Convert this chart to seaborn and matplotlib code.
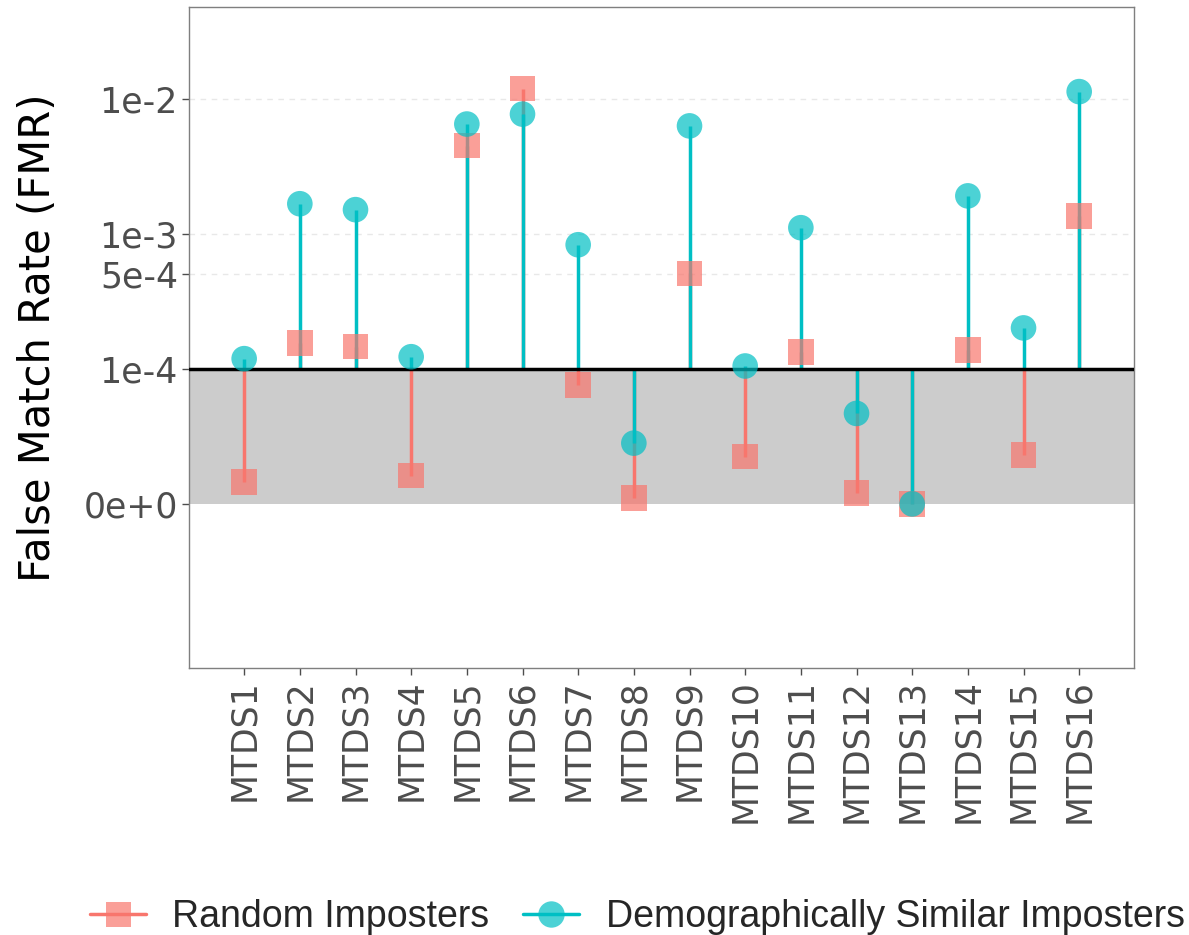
import numpy as np
import pandas as pd
import matplotlib
matplotlib.use("Agg")
import matplotlib.pyplot as plt
from matplotlib.lines import Line2D
import seaborn as sns

sns.set_theme(style="white")
plt.rcParams["font.family"] = ["DejaVu Sans"]

# Data
datasets = ["MTDS%d" % i for i in range(1, 17)]
random_fmr = [1.6e-5, 1.56e-4, 1.46e-4, 2.1e-5, 4.5e-3, 1.19e-2, 8.8e-5, 4.4e-6,
              5.1e-4, 3.5e-5, 1.34e-4, 8e-6, 0.0, 1.38e-4, 3.6e-5, 1.36e-3]
demo_fmr = [1.19e-4, 1.67e-3, 1.51e-3, 1.23e-4, 6.5e-3, 7.7e-3, 8.3e-4, 4.5e-5,
            6.3e-3, 1.05e-4, 1.11e-3, 6.7e-5, 0.0, 1.91e-3, 2.01e-4, 1.13e-2]
series = ["Random Imposters", "Demographically Similar Imposters"]
threshold = 1e-4

df = pd.DataFrame({
    "dataset": datasets * 2,
    "fmr": random_fmr + demo_fmr,
    "type": [series[0]] * 16 + [series[1]] * 16,
})
df["pos"] = df["dataset"].map({d: i for i, d in enumerate(datasets)})

red, cyan = "#F8766D", "#00BFC4"
palette = {series[0]: red, series[1]: cyan}


# linear below the threshold, log above
def fwd(x):
    x = np.asarray(x, dtype=float)
    return np.where(x <= threshold, x / threshold,
                    1 + np.log10(np.maximum(x, threshold) / threshold))


def inv(u):
    u = np.asarray(u, dtype=float)
    return np.where(u <= 1, u * threshold,
                    threshold * 10 ** (np.maximum(u, 1) - 1))


fig = plt.figure(figsize=(11.89, 9.35), dpi=100)
ax = fig.add_axes([0.159, 0.2856, 0.795, 0.707])
ax.set_yscale("function", functions=(fwd, inv))

ax.axhspan(0, threshold, color="#CCCCCC", zorder=0, lw=0)
for t in [5e-4, 1e-3, 1e-2]:
    ax.axhline(t, color="#E8E8E8", lw=1, ls=(0, (4, 4)), zorder=0)

for name in series:
    sub = df[df["type"] == name]
    ax.vlines(sub["pos"], threshold, sub["fmr"], color=palette[name], lw=2.5, zorder=2)

ax.axhline(threshold, color="black", lw=2.5, zorder=3)

sns.scatterplot(data=df, x="pos", y="fmr", hue="type", style="type",
                markers={series[0]: "s", series[1]: "o"}, palette=palette,
                s=340, alpha=0.7, linewidth=0, ax=ax, legend=False, zorder=4)

tick_font = {"family": "DejaVu Sans", "color": "#4D4D4D"}
ax.set_xlim(-0.99, 15.99)
ax.set_ylim(-1.215e-4, 4.79e-2)
ax.set_xticks(range(16))
ax.set_xticklabels(datasets, rotation=90, fontsize=25, **tick_font)
ax.set_yticks([0, 1e-4, 5e-4, 1e-3, 1e-2])
ax.set_yticklabels(["0e+0", "1e-4", "5e-4", "1e-3", "1e-2"], fontsize=25, **tick_font)
ax.yaxis.set_minor_locator(matplotlib.ticker.NullLocator())
ax.tick_params(axis="both", which="major", length=5, width=1, color="#4D4D4D",
               direction="out", bottom=True, left=True, pad=3)
ax.set_xlabel("")
ax.set_ylabel("False Match Rate (FMR)", fontsize=30, color="black", labelpad=18,
              family="DejaVu Sans")
for sp in ax.spines.values():
    sp.set_color("#7F7F7F")
    sp.set_linewidth(1)

handles = [
    Line2D([], [], color=red, lw=2.5, marker="s", markersize=18,
           markerfacecolor=(0.973, 0.463, 0.427, 0.7), markeredgewidth=0),
    Line2D([], [], color=cyan, lw=2.5, marker="o", markersize=19,
           markerfacecolor=(0.0, 0.749, 0.769, 0.7), markeredgewidth=0),
]
fig.legend(handles, series, loc="lower center", bbox_to_anchor=(0.536, -0.036), ncol=2,
           frameon=False, prop={"family": "Liberation Sans", "size": 27},
           handlelength=1.5, handletextpad=0.7, columnspacing=0.9)

fig.savefig("out.png", dpi=100)
